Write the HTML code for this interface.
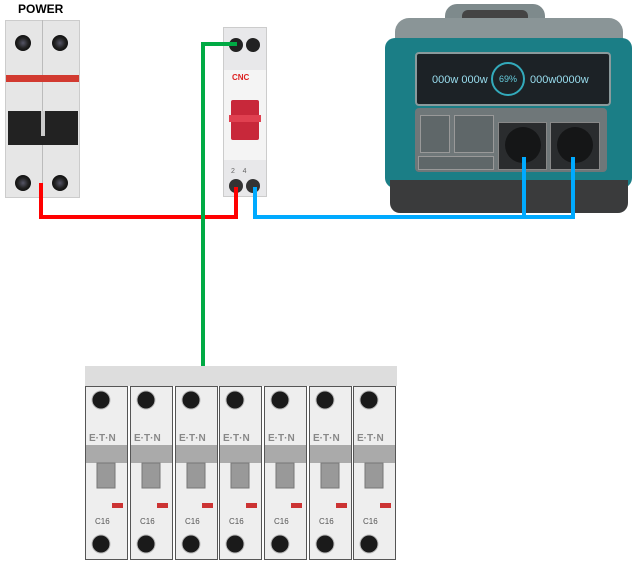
<!DOCTYPE html>
<html><head><style>
body{margin:0;width:640px;height:566px;background:#fff;position:relative;overflow:hidden;font-family:"Liberation Sans",sans-serif}
div{position:absolute;box-sizing:border-box}
.scr{border-radius:50%;background:radial-gradient(circle,#556 0,#222 45%,#111 70%,#888 75%,#ddd 80%)}
.mcb{top:386px;width:43px;height:174px;background:#eee;border:1px solid #555}
</style></head><body>
<div style="left:18px;top:2px;font-weight:bold;font-size:12px">POWER</div>
<div style="left:5px;top:20px;width:75px;height:178px;background:#e6e6e6;border:1px solid #ccc"></div>
<div style="left:42px;top:20px;width:1px;height:178px;background:#bbb"></div>
<div style="left:6px;top:75px;width:73px;height:7px;background:#d23a30"></div>
<div style="left:8px;top:111px;width:70px;height:34px;background:#222"></div>
<div style="left:41px;top:111px;width:4px;height:25px;background:#ccc"></div>
<div class="scr" style="left:15px;top:35px;width:16px;height:16px"></div>
<div class="scr" style="left:52px;top:35px;width:16px;height:16px"></div>
<div class="scr" style="left:15px;top:175px;width:16px;height:16px"></div>
<div class="scr" style="left:52px;top:175px;width:16px;height:16px"></div>
<div style="left:223px;top:27px;width:44px;height:170px;background:#e8e8ea;border:1px solid #ccc"></div>
<div style="left:224px;top:70px;width:42px;height:90px;background:#f4f4f4"></div>
<div style="left:232px;top:73px;font-size:8px;font-weight:bold;color:#d22">CNC</div>
<div style="left:231px;top:100px;width:28px;height:40px;background:#c8283a;border-radius:2px"></div>
<div style="left:229px;top:115px;width:32px;height:7px;background:#e04050"></div>
<div class="scr" style="left:229px;top:38px;width:14px;height:14px;background:#222"></div>
<div class="scr" style="left:246px;top:38px;width:14px;height:14px;background:#222"></div>
<div class="scr" style="left:229px;top:179px;width:14px;height:14px;background:#333"></div>
<div class="scr" style="left:246px;top:179px;width:14px;height:14px;background:#333"></div>
<div style="left:231px;top:168px;font-size:7px;color:#666">2 &nbsp;&nbsp; 4</div>
<div style="left:445px;top:4px;width:100px;height:22px;background:#7e8a8c;border-radius:12px 12px 0 0"></div>
<div style="left:462px;top:10px;width:66px;height:12px;background:#444;border-radius:6px 6px 0 0"></div>
<div style="left:395px;top:18px;width:228px;height:26px;background:#8a9597;border-radius:14px 14px 0 0"></div>
<div style="left:385px;top:38px;width:247px;height:150px;background:#1b7e86;border-radius:10px"></div>
<div style="left:390px;top:180px;width:238px;height:33px;background:#3a3b3c;border-radius:0 0 10px 10px"></div>
<div style="left:415px;top:52px;width:196px;height:54px;background:#1c2226;border:2px solid #8a9a9c;border-radius:4px"></div>
<div style="left:432px;top:74px;font-size:11px;color:#9de">000w 000w</div>
<div style="left:530px;top:74px;font-size:11px;color:#9de">000w0000w</div>
<div style="left:491px;top:62px;width:34px;height:34px;border:2px solid #3ab;border-radius:50%;font-size:9px;color:#6cd;text-align:center;line-height:30px">69%</div>
<div style="left:415px;top:108px;width:192px;height:64px;background:#6f7779;border-radius:4px"></div>
<div style="left:498px;top:122px;width:49px;height:48px;background:#2a2c2e;border:1px solid #888"></div>
<div style="left:550px;top:122px;width:50px;height:48px;background:#2a2c2e;border:1px solid #888"></div>
<div style="left:505px;top:127px;width:36px;height:36px;background:#151617;border-radius:50%"></div>
<div style="left:557px;top:127px;width:36px;height:36px;background:#151617;border-radius:50%"></div>
<div style="left:420px;top:115px;width:30px;height:38px;background:#5f6769;border:1px solid #999"></div>
<div style="left:454px;top:115px;width:40px;height:38px;background:#5f6769;border:1px solid #999"></div>
<div style="left:418px;top:156px;width:76px;height:14px;background:#5f6769;border:1px solid #999"></div>
<div style="left:85px;top:366px;width:312px;height:20px;background:#ddd"></div>
<div class="mcb" style="left:85px"></div><div class="mcb" style="left:130px"></div><div class="mcb" style="left:175px"></div><div class="mcb" style="left:219px"></div><div class="mcb" style="left:264px"></div><div class="mcb" style="left:309px"></div><div class="mcb" style="left:353px"></div>
<svg width="640" height="566" style="position:absolute;left:0;top:0">
<g id="m">
<circle cx="101" cy="400" r="9" fill="#1a1a1a" stroke="#bbb" stroke-width="1"/>
<rect x="86" y="445" width="41" height="18" fill="#aaa"/>
<rect x="97" y="463" width="18" height="25" fill="#999" stroke="#777"/>
<text x="89" y="441" font-size="10" font-weight="bold" fill="#888">E·T·N</text>
<rect x="112" y="503" width="11" height="5" fill="#c33"/>
<text x="95" y="524" font-size="8" fill="#555">C16</text>
<circle cx="101" cy="544" r="9" fill="#1a1a1a" stroke="#bbb" stroke-width="1"/>
</g>
<use href="#m" x="45"/><use href="#m" x="90"/><use href="#m" x="134"/><use href="#m" x="179"/><use href="#m" x="224"/><use href="#m" x="268"/>
<polyline points="41,183 41,217 236,217 236,187" fill="none" stroke="#f00" stroke-width="4"/>
<polyline points="237,44 203,44 203,366" fill="none" stroke="#0a4" stroke-width="4"/>
<polyline points="255,187 255,217 573,217 573,157" fill="none" stroke="#0af" stroke-width="4"/>
<line x1="524" y1="219" x2="524" y2="157" stroke="#0af" stroke-width="4"/>
</svg>
</body></html>
